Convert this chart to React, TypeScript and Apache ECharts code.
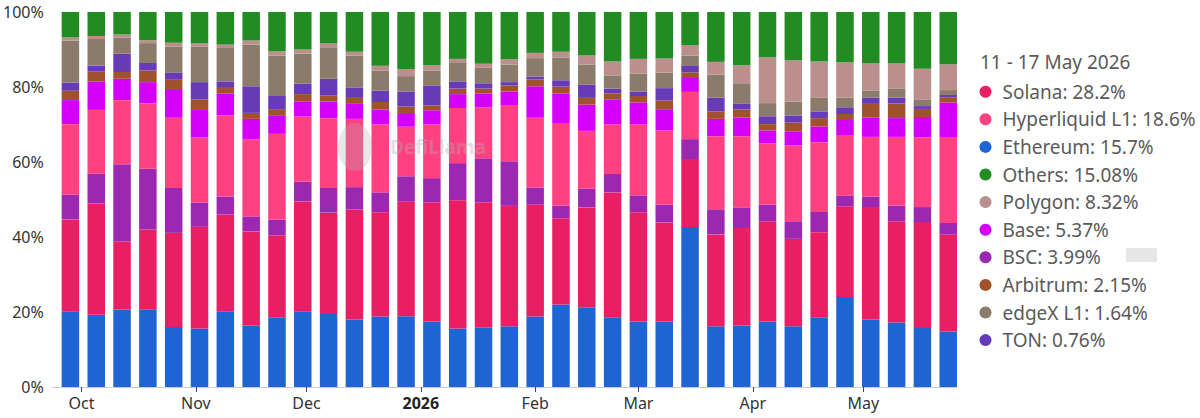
import React, { useEffect, useRef } from "react";
import * as echarts from "echarts";

// Weekly buckets (Monday week starts)
const weekStarts = [
  "2025-09-22", "2025-09-29", "2025-10-06", "2025-10-13", "2025-10-20", "2025-10-27",
  "2025-11-03", "2025-11-10", "2025-11-17", "2025-11-24", "2025-12-01", "2025-12-08",
  "2025-12-15", "2025-12-22", "2025-12-29", "2026-01-05", "2026-01-12", "2026-01-19",
  "2026-01-26", "2026-02-02", "2026-02-09", "2026-02-16", "2026-02-23", "2026-03-02",
  "2026-03-09", "2026-03-16", "2026-03-23", "2026-03-30", "2026-04-06", "2026-04-13",
  "2026-04-20", "2026-04-27", "2026-05-04", "2026-05-11", "2026-05-18",
];

const monthTicks = [
  "2025-10-01", "2025-11-01", "2025-12-01", "2026-01-01",
  "2026-02-01", "2026-03-01", "2026-04-01", "2026-05-01",
];
const monthNames = ["Jan", "Feb", "Mar", "Apr", "May", "Jun", "Jul", "Aug", "Sep", "Oct", "Nov", "Dec"];

// Share of weekly volume (%) per chain
const ethereum = [20.2, 19.3, 20.7, 20.6, 16.0, 15.6, 20.2, 16.4, 18.6, 20.2, 19.5, 18.0, 18.8, 18.9, 17.5, 15.6, 15.8, 16.2, 18.8, 22.0, 21.3, 18.6, 17.5, 17.5, 42.7, 16.2, 16.4, 17.5, 16.2, 18.6, 24.0, 18.0, 17.2, 15.7, 14.8];
const solana = [24.5, 29.6, 18.1, 21.4, 25.1, 27.1, 25.8, 25.1, 21.9, 29.3, 27.0, 29.3, 27.8, 30.5, 31.8, 34.2, 33.5, 32.1, 29.8, 23.0, 26.6, 33.3, 29.1, 26.4, 18.1, 24.5, 26.0, 26.7, 23.3, 22.7, 24.2, 30.0, 27.0, 28.2, 25.8];
const bsc = [6.6, 8.0, 20.6, 16.2, 12.0, 6.5, 4.8, 4.0, 4.1, 5.3, 6.6, 6.0, 5.3, 6.8, 6.4, 9.9, 11.7, 11.9, 4.6, 3.4, 5.0, 4.9, 4.5, 4.7, 5.3, 6.7, 5.5, 4.4, 4.7, 5.4, 2.9, 2.8, 4.2, 3.99, 3.1];
const hyperliquid = [18.8, 17.0, 17.1, 17.5, 18.9, 17.3, 21.7, 20.5, 22.9, 17.3, 18.6, 18.2, 18.1, 13.2, 14.3, 14.7, 13.6, 15.0, 18.8, 22.0, 15.4, 13.2, 18.9, 19.8, 12.6, 19.5, 19.0, 16.3, 20.2, 18.6, 16.1, 15.9, 18.3, 18.6, 22.9];
const base = [6.4, 7.6, 5.7, 5.6, 7.2, 7.6, 5.8, 5.5, 4.8, 4.1, 4.4, 4.0, 4.0, 3.4, 3.8, 3.7, 3.7, 3.6, 8.2, 7.9, 7.0, 6.6, 5.9, 5.5, 3.7, 4.6, 5.0, 3.5, 3.8, 4.2, 4.0, 5.2, 5.0, 5.37, 9.2];
const arbitrum = [2.5, 2.7, 1.8, 3.1, 2.9, 2.6, 1.7, 1.6, 1.8, 1.9, 1.7, 1.6, 2.0, 2.0, 1.3, 1.5, 1.3, 1.6, 1.8, 1.8, 1.8, 1.7, 1.7, 2.5, 1.5, 2.0, 2.1, 1.7, 2.3, 2.2, 1.6, 3.6, 3.9, 2.15, 1.4];
const ton = [2.2, 1.5, 4.9, 2.0, 1.8, 4.6, 1.5, 7.1, 3.5, 2.8, 4.4, 2.8, 3.0, 4.0, 5.2, 1.9, 1.4, 0.9, 0.8, 1.7, 3.5, 1.3, 1.2, 3.3, 1.7, 3.7, 1.5, 2.1, 1.9, 1.8, 1.8, 1.7, 1.6, 0.76, 0.6];
const edgex = [11.2, 7.1, 4.3, 5.3, 6.9, 9.4, 8.9, 11.1, 10.8, 8.0, 8.4, 8.5, 5.4, 4.1, 4.1, 4.9, 4.1, 4.7, 4.9, 6.1, 5.4, 3.5, 4.8, 4.1, 2.8, 6.1, 5.5, 3.5, 3.7, 3.6, 2.6, 1.9, 2.3, 1.64, 1.3];
const polygon = [0.8, 0.8, 0.8, 0.8, 1.0, 0.9, 0.9, 1.1, 1.1, 1.1, 1.0, 1.0, 1.3, 1.9, 1.4, 1.1, 1.1, 1.4, 1.4, 1.5, 2.4, 3.7, 3.9, 3.8, 2.8, 3.4, 4.8, 12.2, 11.0, 9.7, 9.4, 7.3, 6.9, 8.32, 6.9];
const others = [6.8, 6.4, 6.0, 7.5, 8.2, 8.4, 8.7, 7.6, 10.5, 10.0, 8.4, 10.6, 14.3, 15.2, 14.2, 12.5, 13.8, 12.6, 10.9, 10.6, 11.6, 13.2, 12.5, 12.4, 8.8, 13.3, 14.2, 12.1, 12.9, 13.2, 13.4, 13.6, 13.6, 15.08, 13.9];

// Stack order, bottom to top
const seriesNames = ["Ethereum", "Solana", "BSC", "Hyperliquid L1", "Base", "Arbitrum", "TON", "edgeX L1", "Polygon", "Others"];
const seriesValues = [ethereum, solana, bsc, hyperliquid, base, arbitrum, ton, edgex, polygon, others];
const seriesColors = ["#1e64d2", "#e91e63", "#9c27b0", "#ff4081", "#d500f9", "#a0522d", "#673ab7", "#8a7b6b", "#bc8f8f", "#228b22"];

// The week shown in the side legend
const SELECTED_WEEK = 33;

const FONT = "'Noto Sans', 'Open Sans', sans-serif";
const DAY = 86400000;
const GRID = { left: 52, right: 243, top: 12, bottom: 31 };
const CHART_W = 1200;
const CHART_H = 418;
const BAR_W = 17.5;

const toUTC = (s: string) => {
  const [y, m, d] = s.split("-").map(Number);
  return Date.UTC(y, m - 1, d);
};

export default function App() {
  const ref = useRef<HTMLDivElement>(null);

  useEffect(() => {
    document.body.style.margin = "0";
    const chart = echarts.init(ref.current!, null, { renderer: "svg" });

    // bars are anchored at the closing day of each week (timestamps in ms)
    const xs = weekStarts.map((w) => toUTC(w) + 6 * DAY);
    const totals = weekStarts.map((_, i) => seriesValues.reduce((s, arr) => s + arr[i], 0));

    const selStart = new Date(toUTC(weekStarts[SELECTED_WEEK]));
    const selEnd = new Date(toUTC(weekStarts[SELECTED_WEEK]) + 6 * DAY);
    const weekLabel = `${selStart.getUTCDate()} - ${selEnd.getUTCDate()} ${monthNames[selEnd.getUTCMonth()]} ${selEnd.getUTCFullYear()}`;

    const legendOrder = seriesNames
      .map((n, k) => ({ n, v: seriesValues[k][SELECTED_WEEK] }))
      .sort((a, b) => b.v - a.v)
      .map((o) => o.n);
    const valueByName: Record<string, number> = {};
    seriesNames.forEach((n, k) => (valueByName[n] = seriesValues[k][SELECTED_WEEK]));

    const tickValues = monthTicks.map(toUTC);
    const xMin = Date.UTC(2025, 8, 23, 5);
    const xMax = Date.UTC(2026, 4, 26, 9);
    // ECharts widens a bar-carrying time axis by one bar width; pre-shrink it so
    // the final extent equals [xMin, xMax] and matches the month axis below.
    const plotW = CHART_W - GRID.left - GRID.right;
    const pad = ((xMax - xMin) * (BAR_W / 2)) / plotW;

    const option: any = {
      animation: false,
      grid: GRID,
      xAxis: [
        {
          // time axis carrying the bars
          type: "time",
          min: xMin + pad,
          max: xMax - pad,
          show: false,
        },
        {
          // twin axis drawing the month ticks and labels
          type: "value",
          min: xMin,
          max: xMax,
          position: "bottom",
          axisLine: { show: true, lineStyle: { color: "#cccccc", width: 1 } },
          axisTick: { show: true, customValues: tickValues, length: 5, lineStyle: { color: "#444" } },
          splitLine: { show: false },
          axisLabel: {
            customValues: tickValues,
            margin: 8,
            fontSize: 16,
            color: "#333",
            fontFamily: FONT,
            formatter: (val: number) => {
              const d = new Date(val);
              if (d.getUTCMonth() === 0) return `{y|${d.getUTCFullYear()}}`;
              return monthNames[d.getUTCMonth()];
            },
            rich: { y: { fontWeight: "bold", fontSize: 16, color: "#222", fontFamily: FONT } },
          },
        },
      ],
      yAxis: {
        type: "value",
        min: 0,
        max: 100,
        interval: 20,
        axisLine: { show: false },
        axisTick: { show: false },
        splitLine: { show: false },
        axisLabel: { formatter: "{value}%", fontSize: 16, color: "#333", fontFamily: FONT, margin: 9 },
      },
      legend: {
        orient: "vertical",
        left: 979.5,
        top: 80.7,
        padding: 0,
        itemGap: 5.6,
        itemWidth: 24,
        itemHeight: 12,
        icon: "circle",
        selectedMode: false,
        data: legendOrder,
        formatter: (name: string) => `${name}: ${valueByName[name]}%`,
        textStyle: { fontSize: 19, color: "#5a5a5a", fontFamily: FONT, lineHeight: 22 },
      },
      graphic: [
        {
          type: "text",
          left: 980,
          top: 52,
          style: { text: weekLabel, fontSize: 19, fill: "#5a5a5a", fontFamily: FONT },
        },
        {
          type: "rect",
          shape: { x: 1126, y: 248, width: 31, height: 14 },
          style: { fill: "#e6e6e6" },
        },
        {
          type: "ellipse",
          shape: { cx: 355, cy: 147, rx: 17, ry: 24 },
          style: { fill: "rgba(175,175,175,0.3)" },
          z: 100,
        },
        {
          type: "text",
          x: 390,
          y: 137,
          style: { text: "DefiLlama", fontSize: 19, fontWeight: "bold", fill: "rgba(175,175,175,0.4)", fontFamily: FONT },
          z: 100,
        },
      ],
      series: seriesNames.map((name, k) => ({
        name,
        type: "bar",
        xAxisIndex: 0,
        stack: "share",
        barWidth: BAR_W,
        itemStyle: { color: seriesColors[k] },
        emphasis: { disabled: true },
        data: xs.map((x, i) => [x, (seriesValues[k][i] / totals[i]) * 100]),
      })),
    };

    chart.setOption(option);
    return () => chart.dispose();
  }, []);

  return <div ref={ref} style={{ position: "absolute", left: 0, top: 0, width: CHART_W, height: CHART_H }} />;
}
